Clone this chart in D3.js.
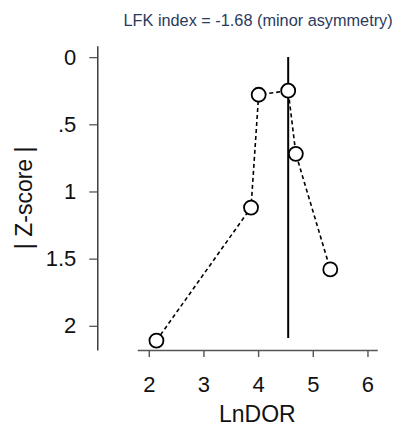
<!DOCTYPE html>
<html>
<head>
<meta charset="utf-8">
<script src="https://cdn.jsdelivr.net/npm/d3@7"></script>
<style>
  body { margin: 0; background: #fff; }
  svg { display: block; font-family: Arial, "Liberation Sans", sans-serif; }
</style>
</head>
<body>
<div id="chart"></div>
<script>
// Doi plot values
const lnDOR = [2.14, 3.87, 4.01, 4.55, 4.69, 5.32];
const zScore = [2.11, 1.12, 0.28, 0.25, 0.72, 1.58];
const xTicks = [2, 3, 4, 5, 6];
const yTicks = [0, 0.5, 1, 1.5, 2];
const yTickLabels = ['0', '.5', '1', '1.5', '2'];
const refLine = { x: 4.55, from: 0, to: 2.09 };
const title = 'LFK index = -1.68 (minor asymmetry)';

const width = 393, height = 427;

const svg = d3.select('#chart').append('svg')
  .attr('width', width)
  .attr('height', height);

const x = d3.scaleLinear().domain([1.79, 6.18]).range([137.3, 377.3]);
const y = d3.scaleLinear().domain([-0.085, 2.18]).range([45.7, 350]);

// titulo
svg.append('text')
  .attr('x', 123.5)
  .attr('y', 26.3)
  .attr('font-size', 16.3)
  .attr('fill', '#2b3a5c')
  .text(title);

// eje x
const gx = svg.append('g')
  .attr('transform', 'translate(0,350)')
  .call(d3.axisBottom(x).tickValues(xTicks).tickSize(7).tickSizeOuter(0).tickPadding(19).tickFormat(d3.format('d')));
gx.select('.domain').attr('stroke', '#555').attr('stroke-width', 1.4);
gx.selectAll('.tick line').attr('stroke', '#555').attr('stroke-width', 1.4);
gx.selectAll('.tick text').attr('font-size', 22).attr('fill', '#111').attr('font-family', 'Arial, "Liberation Sans", sans-serif');

// eje y
const gy = svg.append('g')
  .attr('transform', 'translate(97.3,0)')
  .call(d3.axisLeft(y).tickValues(yTicks).tickSize(8).tickSizeOuter(0).tickPadding(13)
    .tickFormat((d, i) => yTickLabels[i]));
gy.select('.domain').attr('stroke', '#222').attr('stroke-width', 1.3);
gy.selectAll('.tick line').attr('stroke', '#555').attr('stroke-width', 1.3);
gy.selectAll('.tick text').attr('font-size', 22).attr('fill', '#111').attr('font-family', 'Arial, "Liberation Sans", sans-serif');

// etiquetas de ejes
svg.append('text')
  .attr('x', (x.range()[0] + x.range()[1]) / 2)
  .attr('y', 421.5)
  .attr('text-anchor', 'middle')
  .attr('font-size', 23)
  .attr('fill', '#111')
  .text('LnDOR');

svg.append('text')
  .attr('transform', `translate(31.7,${(y.range()[0] + y.range()[1]) / 2}) rotate(-90)`)
  .attr('text-anchor', 'middle')
  .attr('font-size', 23)
  .attr('fill', '#111')
  .text('| Z-score |');

// linea vertical
svg.append('line')
  .attr('x1', x(refLine.x)).attr('x2', x(refLine.x))
  .attr('y1', y(refLine.from)).attr('y2', y(refLine.to))
  .attr('stroke', '#000')
  .attr('stroke-width', 2);

const puntos = lnDOR.map((v, i) => ({ x: v, z: zScore[i] }));

// linea discontinua
svg.append('path')
  .datum(puntos)
  .attr('fill', 'none')
  .attr('stroke', '#000')
  .attr('stroke-width', 1.6)
  .attr('stroke-dasharray', '4,3')
  .attr('d', d3.line().x(d => x(d.x)).y(d => y(d.z)));

// puntos
svg.append('g').selectAll('circle')
  .data(puntos)
  .enter().append('circle')
  .attr('cx', d => x(d.x))
  .attr('cy', d => y(d.z))
  .attr('r', 7)
  .attr('fill', '#fff')
  .attr('stroke', '#000')
  .attr('stroke-width', 1.8);
</script>
</body>
</html>
